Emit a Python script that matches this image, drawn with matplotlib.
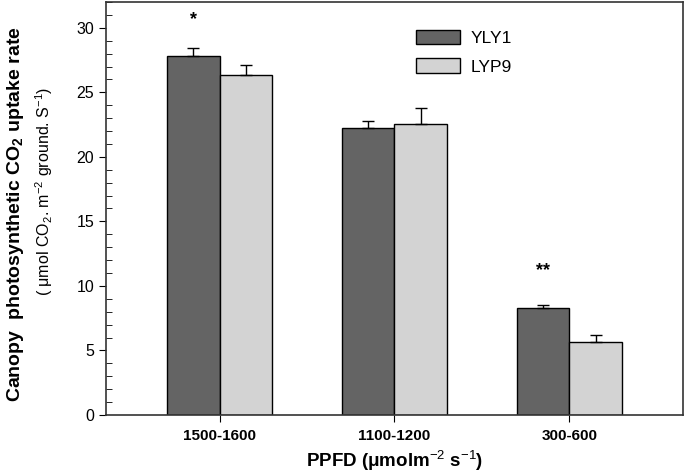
import matplotlib
matplotlib.use("Agg")
import matplotlib.pyplot as plt
from matplotlib.ticker import MultipleLocator
import numpy as np

plt.rcParams['font.family'] = ['Liberation Sans', 'DejaVu Sans']
plt.rcParams['mathtext.fontset'] = 'custom'
plt.rcParams['mathtext.rm'] = 'Liberation Sans'
plt.rcParams['mathtext.bf'] = 'Liberation Sans:bold'

groups = ["1500-1600", "1100-1200", "300-600"]
yly1 = [27.8, 22.2, 8.3]
yly1_err = [0.65, 0.55, 0.25]
lyp9 = [26.35, 22.55, 5.65]
lyp9_err = [0.8, 1.25, 0.55]
marks = ["*", "", "**"]
mark_y = [30.6, 0, 11.2]

fig = plt.figure(figsize=(6.85, 4.73), dpi=100)
ax = fig.add_axes([0.1547, 0.1226, 0.8423, 0.8732])

x = np.arange(1, len(groups) + 1)
w = 0.3
ekw = dict(ecolor='black', elinewidth=1.0, capsize=4.5, capthick=1.0)
ax.bar(x - w/2, yly1, w, color='#646464', edgecolor='black', linewidth=1.0,
       label='YLY1', yerr=[np.zeros(3), yly1_err], error_kw=ekw)
ax.bar(x + w/2, lyp9, w, color='#d3d3d3', edgecolor='black', linewidth=1.0,
       label='LYP9', yerr=[np.zeros(3), lyp9_err], error_kw=ekw)

# significance stars above the YLY1 bars
for xi, m, my in zip(x, marks, mark_y):
    if m:
        ax.text(xi - w/2, my, m, ha='center', va='center',
                fontsize=13, fontweight='bold')

ax.set_xlim(0.35, 3.65)
ax.set_ylim(0, 32)
ax.set_xticks(x)
ax.set_xticklabels(groups, fontsize=11, fontweight='bold')
ax.yaxis.set_major_locator(MultipleLocator(5))
ax.yaxis.set_minor_locator(MultipleLocator(1))
ax.set_yticks([0, 5, 10, 15, 20, 25, 30])
ax.tick_params(axis='y', which='major', direction='out', length=5, labelsize=11.5)
ax.tick_params(axis='y', which='minor', direction='in', length=4)
ax.tick_params(axis='x', which='major', direction='out', length=5, pad=5)
for s in ax.spines.values():
    s.set_linewidth(1.2)
    s.set_color('#333333')

ax.set_xlabel("PPFD (μmolm$^{-2}$ s$^{-1}$)", fontsize=13.5,
              fontweight='bold', labelpad=4)
fig.text(0.023, 0.547, r"Canopy  photosynthetic CO$_\mathbf{2}$ uptake rate",
         rotation=90, ha='center', va='center', fontsize=14, fontweight='bold')
fig.text(0.064, 0.596, "( μmol CO$_2$. m$^{-2}$ ground. S$^{-1}$)",
         rotation=90, ha='center', va='center', fontsize=11.5)

ax.legend(loc='upper left', bbox_to_anchor=(0.511, 0.97), frameon=False,
          fontsize=12.5, handlelength=2.5, handleheight=0.9, labelspacing=0.7,
          handletextpad=0.6)

fig.savefig("out.png", dpi=100)
